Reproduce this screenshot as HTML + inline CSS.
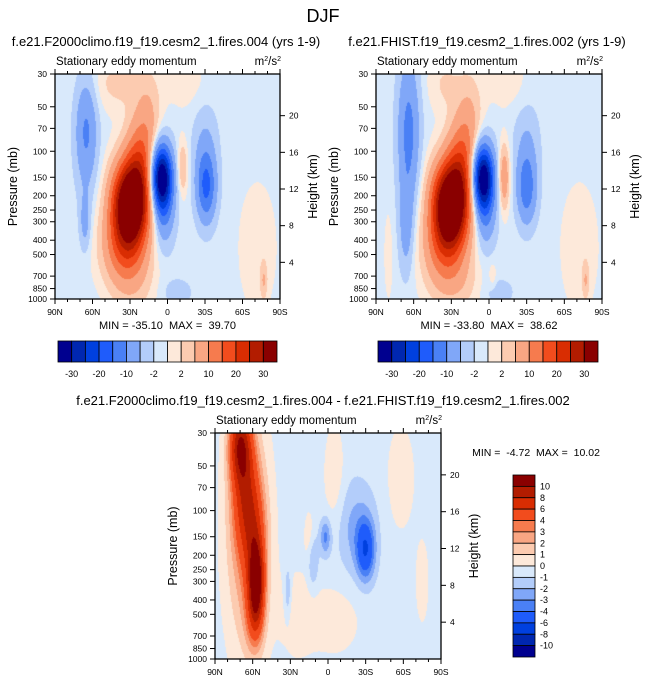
<!DOCTYPE html>
<html><head><meta charset="utf-8">
<style>
html,body{margin:0;padding:0;background:#fff;}
#root{position:relative;width:647px;height:683px;overflow:hidden;font-family:"Liberation Sans",sans-serif;}
canvas{position:absolute;}
svg{position:absolute;left:0;top:0;}
text{white-space:pre;}
</style></head>
<body>
<div id="root">
<canvas id="c1"></canvas>
<canvas id="c2"></canvas>
<canvas id="c3"></canvas>
<svg id="svg" width="647" height="683"></svg>
</div>
<script>
// ---- data ----
const latTicks = [90,60,30,0,-30,-60,-90];
const latTickLabels = ["90N","60N","30N","0","30S","60S","90S"];
const presTicks = [30,50,70,100,150,200,250,300,400,500,700,850,1000];
const kmTicks = [4,8,12,16,20];
const levelsTop = [-30,-25,-20,-15,-10,-5,-2,0,2,5,10,15,20,25,30];
const levelsTopLabels = ["-30","-20","-10","-2","2","10","20","30"];
const levelsDiff = [-10,-8,-6,-4,-3,-2,-1,0,1,2,3,4,6,8,10];
const levelsDiffLabels = ["10","8","6","4","3","2","1","0","-1","-2","-3","-4","-6","-8","-10"];
const palette = ["#00008f","#0027b0","#0040df","#1f5cfb","#4a80f5","#80a7f8","#b3cdfa","#d9e9fb","#fde9da","#fccbb0","#f9a683","#f67b4e","#f24c1d","#d92d02","#b21c00","#8a0000"];
// blobs: [lat, pressure, amplitude, latWidth, lnPwidth]
const base1 = -0.8;
const blobs1 = [[30,230,44,10,0.45],[22,120,14,8,0.5],[15,60,5,7,0.5],[35,450,12,12,0.4],[28,750,4,12,0.4],
 [5,150,-36,6,0.35],[3,260,-8,6,0.4],[-12,130,6,3,0.3],[-31,175,-15,5.5,0.38],[-30,90,-4,7,0.45],
 [65,75,-10,6,0.6],[66,300,-6,3,0.3],[40,35,3.5,15,0.3],[-15,35,1.8,12,0.3],[-72,450,1.8,12,0.8],[-77,750,5,2,0.2],[-8,900,-3,8,0.15]];
const base2 = -0.8;
const blobs2 = [[31,230,44,10,0.45],[22,120,14,8,0.5],[15,60,5,7,0.5],[35,450,12,12,0.4],[28,800,4,14,0.3],
 [5,150,-35,6,0.35],[3,260,-8,6,0.4],[-12,150,10,3,0.35],[-30,180,-12,5.5,0.38],[-30,90,-4,7,0.45],
 [64,75,-11,6,0.8],[66,330,-6,4,0.5],[35,35,3,10,0.3],[-15,35,1.8,12,0.3],[-72,450,1.8,12,0.8],[-77,750,5,2,0.2],[-8,900,-3,8,0.15],[-3,700,2.5,2,0.15],[80,500,1.5,3,0.6]];
const base3 = -0.5;
const blobs3 = [[70,36,8,6,0.4],[66,80,5,7,0.6],[57,300,8,4,0.4],[58,170,4,6,0.6],[58,500,4,5,0.4],[64,150,3.5,12,1.3],
 [-30,185,-4.8,5,0.32],[-22,130,-1.8,11,0.5],[2,150,-2.8,3,0.2],[12,220,-1.8,3,0.3],[32,360,-1.8,2,0.3],
 [-5,60,1.3,6,0.6],[-5,550,1.1,15,0.4],[-58,60,1.2,8,0.6],[-75,300,1.1,4,0.5],[25,500,1.1,10,0.5],[15,150,1.2,3,0.3]];

// ---- geometry ----
const panels = [
 {id:"c1",x0:55,x1:280,y0:74,y1:299,base:base1,blobs:blobs1,levels:levelsTop},
 {id:"c2",x0:376,x1:602,y0:74,y1:299,base:base2,blobs:blobs2,levels:levelsTop},
 {id:"c3",x0:215,x1:441,y0:433,y1:659,base:base3,blobs:blobs3,levels:levelsDiff}
];
const LNR = Math.log(1000/30);
function xScale(p,lat){return p.x0+(90-lat)/180*(p.x1-p.x0);}
function yScale(p,pr){return p.y0+Math.log(pr/30)/LNR*(p.y1-p.y0);}
function field(p,lat,lnp){
 let v=p.base;
 for(const b of p.blobs){const dl=(lat-b[0])/b[3], dz=(lnp-Math.log(b[1]))/b[4];v+=b[2]*Math.exp(-0.5*(dl*dl+dz*dz));}
 return v;
}
function colorIdx(levels,v){let k=0;for(const l of levels){if(v>=l)k++;}return k;}
for(const p of panels){
 const cv=document.getElementById(p.id);
 const w=p.x1-p.x0,h=p.y1-p.y0;
 cv.width=w;cv.height=h;cv.style.left=p.x0+"px";cv.style.top=p.y0+"px";
 const ctx=cv.getContext("2d");
 for(let j=0;j<h;j++){
  const lnp=Math.log(30)+(j+0.5)/h*LNR;
  for(let i=0;i<w;i++){
   const lat=90-(i+0.5)/w*180;
   ctx.fillStyle=palette[colorIdx(p.levels,field(p,lat,lnp))];
   ctx.fillRect(i,j,1,1);
  }
 }
}
// ---- svg overlay ----
const NS="http://www.w3.org/2000/svg";
const svg=document.getElementById("svg");
function el(tag,attrs,parent){const e=document.createElementNS(NS,tag);for(const k in attrs)e.setAttribute(k,attrs[k]);(parent||svg).appendChild(e);return e;}
function txt(x,y,s,size,anchor,extra){const t=el("text",Object.assign({x:x,y:y,"font-size":size,"text-anchor":anchor||"middle",fill:"#000","font-family":"Liberation Sans, sans-serif"},extra||{}));t.textContent=s;return t;}

let t;
t=txt(323,22,"DJF",18);


const titles=["f.e21.F2000climo.f19_f19.cesm2_1.fires.004 (yrs 1-9)","f.e21.FHIST.f19_f19.cesm2_1.fires.002 (yrs 1-9)","f.e21.F2000climo.f19_f19.cesm2_1.fires.004 - f.e21.FHIST.f19_f19.cesm2_1.fires.002"];
const titleX=[166,487,323], titleY=[46,46,405];
const minmax=["MIN = -35.10  MAX =  39.70","MIN = -33.80  MAX =  38.62","MIN =  -4.72  MAX =  10.02"];
panels.forEach((p,n)=>{
 t=txt(titleX[n],titleY[n],titles[n],13);
 
 
 t=txt(p.x0+1,p.y0-9,"Stationary eddy momentum",11.5,"start");
 
 
 t=el("text",{x:p.x1+1,y:p.y0-9,"font-size":11.5,"text-anchor":"end","font-family":"Liberation Sans, sans-serif"});
 t.innerHTML='m<tspan dy="-4" font-size="7">2</tspan><tspan dy="4">/s</tspan><tspan dy="-4" font-size="7">2</tspan>';
 
 
 const fr=el("rect",{x:p.x0,y:p.y0,width:p.x1-p.x0,height:p.y1-p.y0,fill:"none",stroke:"#000","stroke-width":1.3});
 
 
 for(let lat=90;lat>=-90;lat-=10){
  const x=xScale(p,lat), major=lat%30===0, L=major?5:3;
  el("line",{x1:x,x2:x,y1:p.y1,y2:p.y1+L,stroke:"#000","stroke-width":1});
  el("line",{x1:x,x2:x,y1:p.y0,y2:p.y0-L,stroke:"#000","stroke-width":1});
 }
 latTicks.forEach((lat,i)=>{
  t=txt(xScale(p,lat),p.y1+16,latTickLabels[i],8.5);
  
  
 });
 presTicks.forEach(pr=>{
  const y=yScale(p,pr);
  el("line",{x1:p.x0-5,x2:p.x0,y1:y,y2:y,stroke:"#000","stroke-width":1});
  t=txt(p.x0-8,y+3,String(pr),8.5,"end");
  
  
 });
 kmTicks.forEach(km=>{
  const y=yScale(p,1000*Math.exp(-km/7));
  el("line",{x1:p.x1,x2:p.x1+5,y1:y,y2:y,stroke:"#000","stroke-width":1});
  t=txt(p.x1+9,y+3,String(km),8.5,"start");
  
  
 });
 const cy=(p.y0+p.y1)/2;
 t=txt(p.x0-38,cy,"Pressure (mb)",12.5,"middle",{transform:`rotate(-90 ${p.x0-38} ${cy})`});
 
 
 t=txt(p.x1+37,cy,"Height (km)",12.5,"middle",{transform:`rotate(-90 ${p.x1+37} ${cy})`});
 
 
 if(n<2){t=txt((p.x0+p.x1)/2,p.y1+30,minmax[n],11);}
 else{t=txt(536,456,minmax[n],10.5);}
 
 
});
[[58,277],[378,598]].forEach(([a,b])=>{
 const w=(b-a)/16;
 palette.forEach((c,i)=>{
  const r=el("rect",{x:a+i*w,y:341,width:w,height:21,fill:c,stroke:"#000","stroke-width":0.8});
  
  
 });
 levelsTopLabels.forEach((s,i)=>{
  t=txt(a+(2*i+1)*w,377,s,9);
  
  
 });
});
{
 const top=475,bot=657,h=(bot-top)/16;
 palette.slice().reverse().forEach((c,i)=>{
  const r=el("rect",{x:513,y:top+i*h,width:22,height:h,fill:c,stroke:"#000","stroke-width":0.8});
  
  
 });
 levelsDiffLabels.forEach((s,i)=>{
  t=txt(540,top+(i+1)*h+3,s,9,"start");
  
  
 });
}
</script>
</body></html>
